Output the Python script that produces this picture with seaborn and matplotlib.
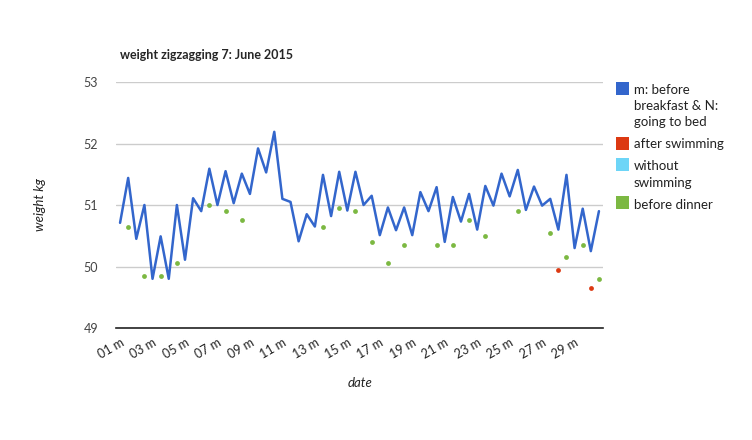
import numpy as np
import pandas as pd
import matplotlib
matplotlib.use("Agg")
import matplotlib.pyplot as plt
from matplotlib.patches import Rectangle
import seaborn as sns

# one row per measurement: "DD m" (morning) and "DD N" (night)
days = [f"{d:02d}" for d in range(1, 31)]
labels = [f"{d} {t}" for d in days for t in ("m", "N")]

weight = [50.71, 51.44, 50.45, 51.00, 49.80, 50.49, 49.80, 51.00, 50.11, 51.11,
          50.90, 51.59, 51.00, 51.55, 51.03, 51.51, 51.18, 51.92, 51.53, 52.19,
          51.10, 51.05, 50.41, 50.85, 50.65, 51.49, 50.82, 51.54, 50.91, 51.54,
          51.00, 51.15, 50.51, 50.96, 50.59, 50.96, 50.51, 51.21, 50.90, 51.29,
          50.40, 51.13, 50.73, 51.18, 50.60, 51.31, 50.99, 51.51, 51.14, 51.57,
          50.92, 51.30, 50.99, 51.10, 50.60, 51.49, 50.30, 50.94, 50.25, 50.90]

nan = np.nan
after_swim = [nan] * 54 + [49.95, nan, nan, nan, 49.65, nan]
without_swim = [nan] * 60
before_dinner = [nan, 50.65, nan, 49.85, nan, 49.85, nan, 50.05, nan, nan,
                 nan, 51.00, nan, 50.90, nan, 50.75, nan, nan, nan, nan,
                 nan, nan, nan, nan, nan, 50.65, nan, 50.95, nan, 50.90,
                 nan, 50.40, nan, 50.05, nan, 50.35, nan, nan, nan, 50.35,
                 nan, 50.35, nan, 50.75, nan, 50.50, nan, nan, nan, 50.90,
                 nan, nan, nan, 50.55, nan, 50.15, nan, 50.35, nan, 49.80]

series_names = [["m: before", "breakfast & N:", "going to bed"],
                ["after swimming"],
                ["without", "swimming"],
                ["before dinner"]]
colors = ["#3366cc", "#dc3912", "#6dd5f7", "#7cb842"]

df = pd.DataFrame({"pos": np.arange(len(labels)), "label": labels,
                   "weight": weight, "swim": after_swim,
                   "noswim": without_swim, "dinner": before_dinner})

sns.set_theme(style="white")
plt.rcParams["font.family"] = ["Lato", "DejaVu Sans"]

W, H = 752, 440
fig = plt.figure(figsize=(W / 100, H / 100), dpi=100)
ax = fig.add_axes([116 / W, 1 - 328 / H, 487 / W, 246 / H])

sns.lineplot(data=df, x="pos", y="weight", ax=ax, color=colors[0], lw=1.8,
             sort=False)
sns.scatterplot(data=df, x="pos", y="swim", ax=ax, color=colors[1], s=12,
                linewidth=0)
sns.scatterplot(data=df, x="pos", y="dinner", ax=ax, color=colors[3], s=12,
                linewidth=0)

ax.set_xlim(-0.5, len(labels) - 0.5)
ax.set_ylim(49, 53)
ax.set_yticks([49, 50, 51, 52, 53])
ax.set_xticks(df.pos[::4])
ax.set_xticklabels(df.label[::4], rotation=30, ha="right",
                   rotation_mode="anchor", fontsize=9, color="#222222")
ax.tick_params(axis="y", labelsize=9, pad=13, length=0, labelcolor="#444444")
ax.tick_params(axis="x", length=0, pad=6)
ax.grid(axis="y", color="#cccccc", lw=1)
for s in ["top", "left", "right"]:
    ax.spines[s].set_visible(False)
ax.spines["bottom"].set_color("#222222")
ax.spines["bottom"].set_linewidth(1.2)
ax.set_xlabel("")
ax.set_ylabel("")

fig.text(120 / W, 1 - 55 / H, "weight zigzagging 7: June 2015",
         fontsize=9, fontweight="bold", va="center", ha="left")
fig.text(40 / W, 1 - 205 / H, "weight kg", fontsize=9.5, style="italic",
         rotation=90, va="center", ha="center", color="#222222")
fig.text(360 / W, 1 - 383 / H, "date", fontsize=9.5, style="italic",
         va="center", ha="center", color="#222222")

# legend drawn by hand so the square sits at the first text line
y = 89
for name, c in zip(series_names, colors):
    fig.add_artist(Rectangle((616 / W, 1 - (y + 6.5) / H), 13 / W, 13 / H,
                             transform=fig.transFigure, facecolor=c,
                             edgecolor="none"))
    for line in name:
        fig.text(634 / W, 1 - (y + 1.5) / H, line, fontsize=9.5,
                 va="center", ha="left", color="#222222")
        y += 16
    y += 6

fig.savefig("out.png", dpi=100)
